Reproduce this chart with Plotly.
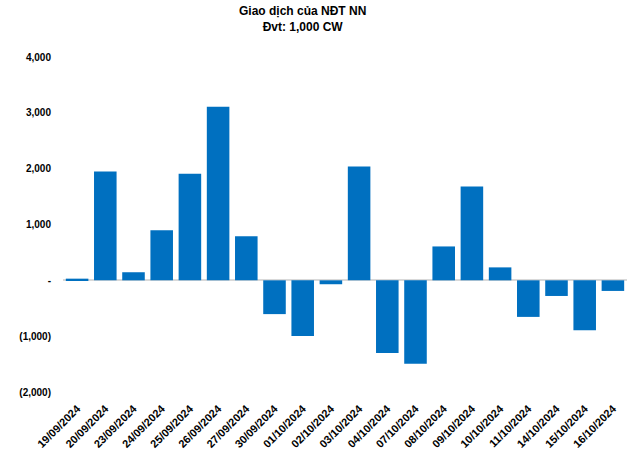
import plotly.graph_objects as go

dates = ["19/09/2024", "20/09/2024", "23/09/2024", "24/09/2024", "25/09/2024",
         "26/09/2024", "27/09/2024", "30/09/2024", "01/10/2024", "02/10/2024",
         "03/10/2024", "04/10/2024", "07/10/2024", "08/10/2024", "09/10/2024",
         "10/10/2024", "11/10/2024", "14/10/2024", "15/10/2024", "16/10/2024"]
values = [30, 1950, 145, 895, 1910, 3110, 790, -605, -995, -70,
          2040, -1300, -1495, 607, 1680, 232, -655, -280, -893, -190]

y_tickvals = [-2000, -1000, 0, 1000, 2000, 3000, 4000]
y_ticktext = ["(2,000)", "(1,000)", "-", "1,000", "2,000", "3,000", "4,000"]

fig = go.Figure(go.Bar(x=dates, y=values, marker=dict(color="#0070C0", line_width=0)))

fig.update_layout(
    width=640, height=452,
    margin=dict(l=63, r=13, t=57, b=60),
    paper_bgcolor="white", plot_bgcolor="white",
    bargap=0.2,
    showlegend=False,
    font=dict(family="Liberation Sans, Arial", color="black"),
)
fig.add_annotation(text="<b>Giao dịch của NĐT NN<br>Đvt: 1,000 CW</b>",
                   xref="paper", yref="paper", x=0.4255, y=1,
                   xanchor="center", yanchor="bottom", yshift=21,
                   showarrow=False, align="center",
                   font=dict(family="Liberation Sans, Arial", size=12, color="black"))
fig.update_xaxes(type="category", tickangle=-45, showgrid=False, showline=False,
                 ticks="outside", ticklen=5, tickcolor="rgba(0,0,0,0)", automargin=False,
                 tickfont=dict(size=11, family="Liberation Sans, Arial", weight="bold"),
                 zeroline=False)
fig.update_yaxes(range=[-2000, 4000], tickvals=y_tickvals, ticktext=y_ticktext,
                 showgrid=False, zeroline=True, zerolinecolor="#D9D9D9", zerolinewidth=1.5,
                 ticks="outside", ticklen=9, tickcolor="rgba(0,0,0,0)", automargin=False,
                 tickfont=dict(size=10, family="Liberation Sans, Arial", weight="bold"))

fig.write_html("out.html")
